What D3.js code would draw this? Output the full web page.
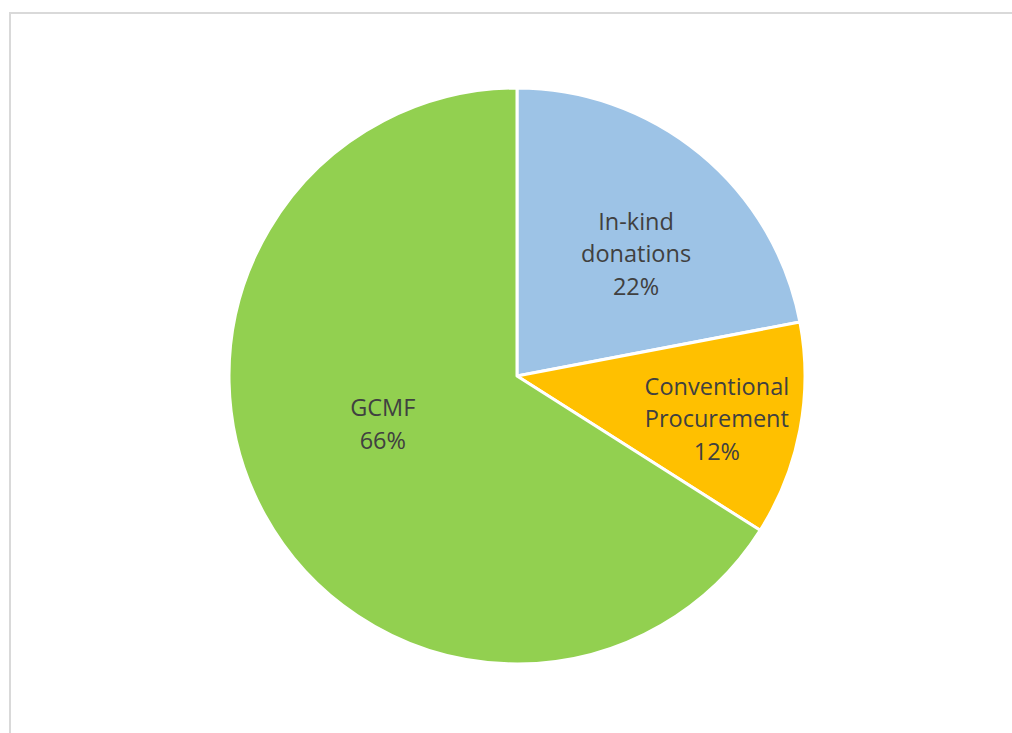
<!DOCTYPE html>
<html>
<head>
<meta charset="utf-8">
<script src="https://cdn.jsdelivr.net/npm/d3@7"></script>
<style>
  html, body { margin: 0; padding: 0; background: #fff; }
  svg { display: block; }
</style>
</head>
<body>
<svg id="chart" width="1012" height="733"></svg>
<script>
// Share of supply by channel (percent)
const categories = ["In-kind donations", "Conventional Procurement", "GCMF"];
const labelLines = [["In-kind", "donations"], ["Conventional", "Procurement"], ["GCMF"]];
const shares = [22, 12, 66];
const colors = ["#9DC3E6", "#FFC000", "#92D050"];

// Label placement: angle (degrees, clockwise from 12 o'clock) and radius fraction
const labelAngle = [44.3, 102.2, 250.3];
const labelRadius = [0.592, 0.71, 0.495];

const W = 1012, H = 733;
const cx = 517, cy = 376, R = 288;

const svg = d3.select("#chart");

// Chart frame
svg.append("rect")
  .attr("x", 10).attr("y", 13)
  .attr("width", W + 20).attr("height", H + 20)
  .attr("fill", "#fff")
  .attr("stroke", "#d9d9d9")
  .attr("stroke-width", 2);

const pie = d3.pie().sort(null).value(d => d.value);
const arc = d3.arc().innerRadius(0).outerRadius(R);

const data = categories.map((c, i) => ({ name: c, value: shares[i], lines: labelLines[i], color: colors[i], i }));
const arcs = pie(data);

const g = svg.append("g").attr("transform", `translate(${cx},${cy})`);

g.selectAll("path.slice")
  .data(arcs)
  .join("path")
  .attr("class", "slice")
  .attr("d", arc)
  .attr("fill", d => d.data.color)
  .attr("stroke", "#fff")
  .attr("stroke-width", 3)
  .attr("stroke-linejoin", "round");

const fontSize = 23.5, lineH = 32.5;

const labels = g.selectAll("text.lbl")
  .data(arcs)
  .join("text")
  .attr("class", "lbl")
  .attr("text-anchor", "middle")
  .attr("font-family", "'Open Sans', sans-serif")
  .attr("font-size", fontSize)
  .attr("fill", "#404040")
  .attr("transform", d => {
    const a = labelAngle[d.data.i] * Math.PI / 180;
    const r = labelRadius[d.data.i] * R;
    return `translate(${r * Math.sin(a)},${-r * Math.cos(a)})`;
  });

labels.each(function(d) {
  const t = d3.select(this);
  const lines = d.data.lines.concat([d.data.value + "%"]);
  const n = lines.length;
  lines.forEach((ln, k) => {
    t.append("tspan")
      .attr("x", 0)
      .attr("y", (k - (n - 1) / 2) * lineH)
      .attr("dy", "0.35em")
      .text(ln);
  });
});
</script>
</body>
</html>
